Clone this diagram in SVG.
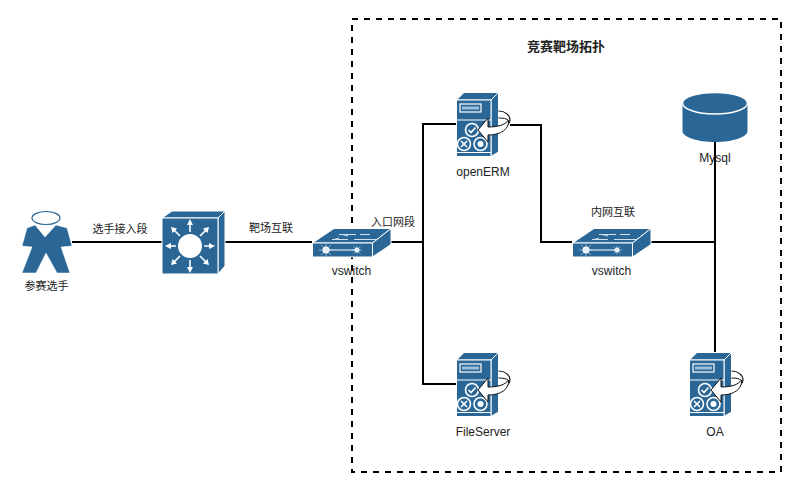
<svg xmlns="http://www.w3.org/2000/svg" width="802" height="492" viewBox="0 0 802 492">
<style>
text{font-family:"Liberation Sans","Noto Sans CJK SC",sans-serif;font-size:12px;fill:#222;text-anchor:middle}
.l{font-size:11px}
.t{font-weight:bold;font-size:13px}
.c{fill:none;stroke:#000;stroke-width:2}
.b{fill:#2a6796;stroke:#fff;stroke-width:1}
.w{fill:none;stroke:#fff;stroke-width:1.600}
</style>
<defs>
<g id="srv">
<path class="b" d="M0.500 8 L8 0.500 H42.500 L35 8Z"/>
<path class="b" d="M35 8 L42.500 0.500 V60 L35 64.500Z"/>
<rect class="b" x="0.500" y="8" width="34.500" height="56.500"/>
<rect x="4" y="12" width="21" height="8" fill="none" stroke="#fff" stroke-width="1.200"/>
<rect x="6" y="14.500" width="17" height="3" fill="#9cc0dc"/>
<path d="M1 28H35M1 60.500H35" stroke="#fff" stroke-width="1.200"/>
<circle class="w" cx="16" cy="38" r="6.500"/><path class="w" d="M12.500 38l2.500 2.500 4.500-5"/>
<circle class="w" cx="8" cy="52" r="6.500"/><path class="w" d="M5 49l6 6M11 49l-6 6"/>
<circle class="w" cx="24.500" cy="52" r="6.500"/><circle cx="24.500" cy="52" r="3" fill="#fff"/>
<path d="M42.500 19C49 19 54 23 54 28C54 32 49 34 42.500 34" fill="none" stroke="#111" stroke-width="1.200"/>
<path d="M42.500 26C47 26 50 26.500 52 28" fill="none" stroke="#111" stroke-width="1"/>
<path d="M22 38L32 26V35C42 35 49 33 52.500 28C53.500 37 45 43 32 43V50Z" fill="#fff" stroke="#111" stroke-width="1"/>
</g>
<g id="sw">
<path class="b" d="M0.500 15L22 0.500 H79 L60.500 15Z"/>
<path class="b" d="M60.500 15L79 0.500V16.500L60.500 29Z"/>
<rect class="b" x="0.500" y="15" width="60" height="14"/>
<path d="M12 22H46" stroke="#fff" stroke-width="1.200"/>
<circle cx="14" cy="22" r="3.500" fill="#fff"/><circle cx="45" cy="22" r="2.500" fill="#fff"/>
<path d="M7 22H21M14 16V28M9 17L19 27M19 17L9 27M40 22H50M45 18V26M41.500 18.500L48.500 25.500M48.500 18.500L41.500 25.500" stroke="#cfe0ee" stroke-width="0.600"/>
<path d="M27 6.500H44M48 6.500H58M20 11.500H36M42 11.500H64M36 8L30 6.500M22 11.500L27 10" fill="none" stroke="#cfe0ee" stroke-width="1"/>
</g>
</defs>
<rect width="802" height="492" fill="#fff"/>
<rect x="352" y="19" width="429" height="453" fill="none" stroke="#000" stroke-width="2" stroke-dasharray="6 6"/>
<g id="connectors">
<path class="c" d="M72 242H162"/>
<path class="c" d="M225 242H312"/>
<path class="c" d="M391 242H423"/>
<path class="c" d="M456 124H423V384H456"/>
<path class="c" d="M510 125H541V242H572"/>
<path class="c" d="M651 242H715"/>
<path class="c" d="M715 142V352"/>
</g>
<g id="player">
<ellipse cx="46" cy="218" rx="14" ry="6.500" fill="#fff" stroke="#2a6796" stroke-width="1.200"/>
<path d="M35 225L45 237L56 225L67 228L72 246L61 247L70 273H57L46 253L36 273H22L32 247L22 246L27 228Z" fill="#2a6796" stroke="#fff" stroke-width="0.500"/>
<text class="l" x="46.500" y="290">参赛选手</text>
</g>
<g id="router">
<path class="b" d="M162 218L172 211H225L218 218Z"/>
<path class="b" d="M218 218L225 211V266L218 274Z"/>
<rect class="b" x="162" y="218" width="56" height="56"/>
<circle cx="190" cy="246" r="12" fill="#fff"/>
<g stroke="#fff" stroke-width="1.600" fill="#fff">
<path d="M190 232V224M190 260V268M176 246H170M204 246H210M180 236L173 229M200 236L207 229M180 256L173 263M200 256L207 263"/>
<path stroke="none" d="M190 219l-3 6h6zM190 273l-3-6h6zM165 246l6-3v6zM215 246l-6-3v6zM171 227l6 1.500-4.500 4.500zM209 227l-6 1.500 4.500 4.500zM171 265l6-1.500-4.500-4.500zM209 265l-6-1.500 4.500-4.500z"/>
</g>
</g>
<g id="vswitch1">
<use href="#sw" transform="translate(312 228)"/>
<text x="351.500" y="275">vswitch</text>
</g>
<g id="openerm">
<use href="#srv" transform="translate(456 92)"/>
<text x="483" y="176">openERM</text>
</g>
<g id="fileserver">
<use href="#srv" transform="translate(456 352)"/>
<text x="483" y="436">FileServer</text>
</g>
<g id="vswitch2">
<use href="#sw" transform="translate(572 228)"/>
<text x="611.500" y="275">vswitch</text>
</g>
<g id="mysql">
<path d="M682.500 103V131C682.500 137 697 142 715 142S747.500 137 747.500 131V103Z" fill="#2a6796"/>
<path d="M682.500 103C682.500 97 697 92.500 715 92.500S747.500 97 747.500 103C747.500 109 733 114 715 114S682.500 109 682.500 103Z" fill="#2a6796" stroke="#fff" stroke-width="1.500"/>
<text x="715" y="162">Mysql</text>
</g>
<g id="oa">
<use href="#srv" transform="translate(689 352)"/>
<text x="715" y="436">OA</text>
</g>
<g id="labels">
<text class="l" x="120" y="233">选手接入段</text>
<text class="l" x="271" y="232">靶场互联</text>
<text class="l" x="393" y="226">入口网段</text>
<text class="l" x="613" y="216">内网互联</text>
<text class="t" x="566" y="51">竞赛靶场拓扑</text>
</g>
</svg>
